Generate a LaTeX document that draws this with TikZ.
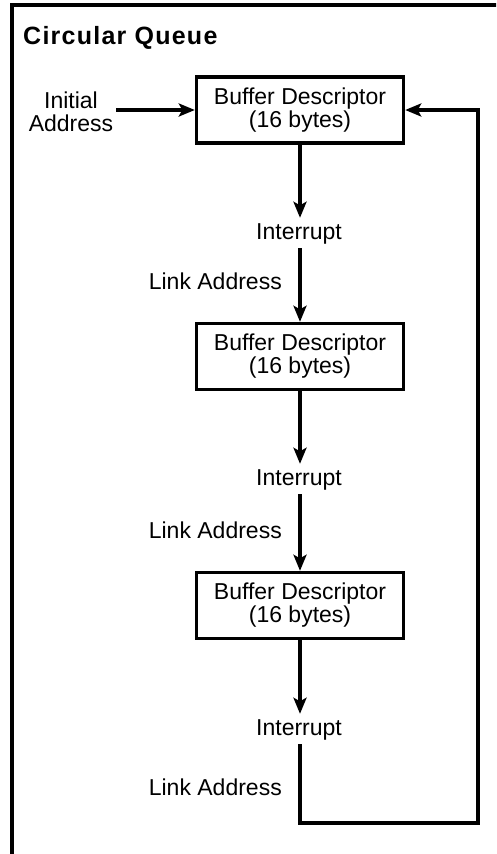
\documentclass[tikz,border=0pt]{standalone}
\usepackage{fontspec}
\setmainfont{Liberation Sans}
\newfontfamily\titlefont[LetterSpace=5]{Liberation Sans}
\usetikzlibrary{arrows.meta}
\begin{document}
\begin{tikzpicture}[x=1pt,y=-1pt,
  lw/.style={line width=3.4pt},
  arr/.style={lw,-{Stealth[length=16pt,width=13pt,inset=3.5pt]}},
  bdbox/.style={draw,lw,minimum width=207pt,minimum height=66pt,inner sep=0pt,align=center,font=\fontsize{23}{23}\selectfont},
  lbl/.style={font=\fontsize{23}{23}\selectfont},
  intr/.style={lbl,text height=17pt,text depth=5pt,inner xsep=2pt,inner ysep=4pt,anchor=base}]
\useasboundingbox (0,0) rectangle (496,854);
\begin{scope}
\clip (0,0) rectangle (496,854);
\draw[lw] (12,870) -- (12,5) -- (510,5);
\end{scope}
\node[anchor=base west,inner sep=0pt,font=\titlefont\bfseries\fontsize{25}{25}\selectfont] (title) at (23,44) {Circular Queue};
\node[bdbox] (b1) at (300,110) {Buffer Descriptor\\(16 bytes)};
\node[bdbox] (b2) at (300,356.5) {Buffer Descriptor\\(16 bytes)};
\node[bdbox] (b3) at (300,605.5) {Buffer Descriptor\\(16 bytes)};
\node[lbl,align=center,inner sep=3pt] (init) at (71,112) {Initial\\Address};
\node[intr] (i1) at (299,239) {Interrupt};
\node[intr] (i2) at (299,485) {Interrupt};
\node[intr] (i3) at (299,735) {Interrupt};
\node[lbl,anchor=base east,inner sep=0pt] (l1) at (282,289) {Link Address};
\node[lbl,anchor=base east,inner sep=0pt] (l2) at (282,538) {Link Address};
\node[lbl,anchor=base east,inner sep=0pt] (l3) at (282,795) {Link Address};
\coordinate (br) at (478,823);
\draw[arr] (init.east |- b1.west) -- (b1.west);
\draw[arr] (b1.south) -- (b1.south |- i1.north);
\draw[arr] (b1.south |- i1.south) -- (b2.north);
\draw[arr] (b2.south) -- (b2.south |- i2.north);
\draw[arr] (b2.south |- i2.south) -- (b3.north);
\draw[arr] (b3.south) -- (b3.south |- i3.north);
\draw[arr,line join=miter] (b3.south |- i3.south) |- (br) |- (b1.east);
\end{tikzpicture}
\end{document}
